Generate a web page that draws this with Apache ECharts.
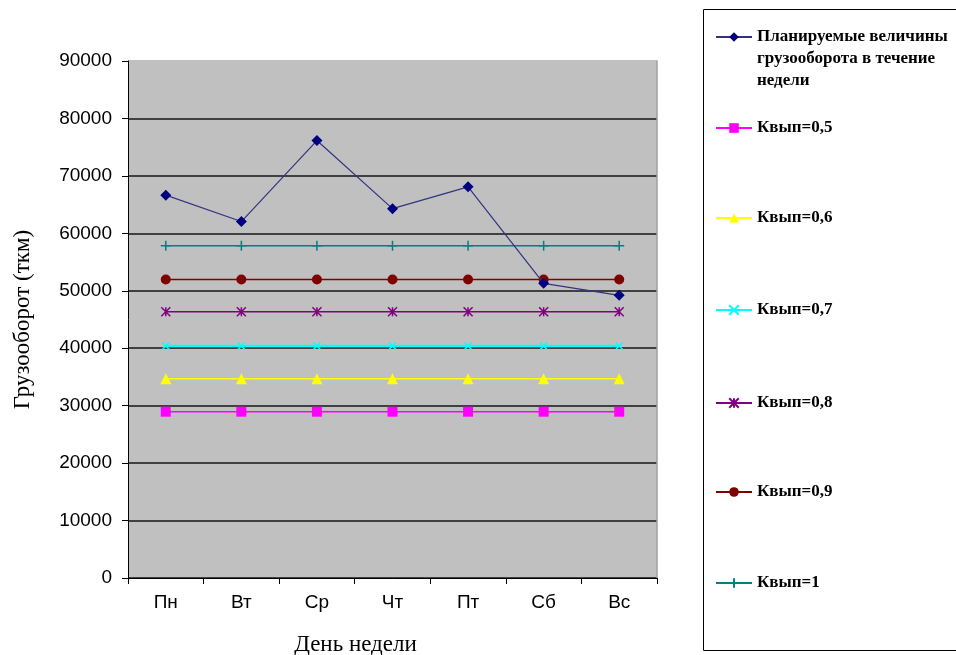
<!DOCTYPE html>
<html><head><meta charset="utf-8">
<script src="https://cdn.jsdelivr.net/npm/echarts@6/dist/echarts.min.js"></script>
<style>html,body{margin:0;padding:0;background:#fff;}#c{width:956px;height:655px;}</style>
</head><body><div id="c"></div>
<script>
const categories = ['Пн','Вт','Ср','Чт','Пт','Сб','Вс'];
const planned = [66650, 62050, 76150, 64300, 68100, 51300, 49200];
const k05 = [28950, 28950, 28950, 28950, 28950, 28950, 28950];
const k06 = [34700, 34700, 34700, 34700, 34700, 34700, 34700];
const k07 = [40400, 40400, 40400, 40400, 40400, 40400, 40400];
const k08 = [46350, 46350, 46350, 46350, 46350, 46350, 46350];
const k09 = [51950, 51950, 51950, 51950, 51950, 51950, 51950];
const k10 = [57850, 57850, 57850, 57850, 57850, 57850, 57850];
const seriesNames = ['Планируемые величины\nгрузооборота в течение\nнедели','Квып=0,5','Квып=0,6','Квып=0,7','Квып=0,8','Квып=0,9','Квып=1'];
const yTicks = {min: 0, max: 90000, interval: 10000};

const X_PATH = 'path://M0,0L10,10M10,0L0,10';
const AST_PATH = 'path://M0,0L10,10M10,0L0,10M5,0L5,10';
const PLUS_PATH = 'path://M5,0L5,10M0,5L10,5';

function mk(name, data, color, symbol, size, opts) {
  opts = opts || {};
  const stroke = symbol.indexOf('path://') === 0;
  return {
    name: name, type: 'line', data: data, symbol: symbol, symbolSize: size,
    lineStyle: {color: opts.lineColor || color, width: opts.lineWidth || 1.5},
    itemStyle: stroke ? {color: color, borderColor: color, borderWidth: 1.5} : {color: color},
    z: opts.z || 2, animation: false
  };
}

const series = [
  mk(seriesNames[1], k05, '#FF00FF', 'rect', 10),
  mk(seriesNames[2], k06, '#FFFF00', 'triangle', 11),
  mk(seriesNames[3], k07, '#00FFFF', X_PATH, 7, {lineWidth: 2.5}),
  mk(seriesNames[4], k08, '#800080', AST_PATH, 9),
  mk(seriesNames[5], k09, '#800000', 'circle', 10),
  mk(seriesNames[6], k10, '#008080', PLUS_PATH, 10),
  mk(seriesNames[0], planned, '#000080', 'diamond', 11, {lineColor: '#333380', lineWidth: 1.2, z: 3})
];

const legendCenters = [37, 128, 218, 310, 403, 492, 583];
const LH = 22;
const legends = seriesNames.map(function(name, k){
  const first = k === 0;
  return {
    data: [name], orient: 'vertical', left: 715,
    top: first ? legendCenters[k] - 2.5 * LH : legendCenters[k] - LH / 2,
    itemWidth: 36, itemHeight: 12, itemGap: 0, padding: 0,
    selectedMode: false,
    formatter: first ? function(n){ return '\n\n' + n; } : '{name}',
    textStyle: {fontFamily: 'Liberation Serif', fontWeight: 'bold', fontSize: 17, color: '#000', lineHeight: LH}
  };
});

const chart = echarts.init(document.getElementById('c'), null, {renderer: 'canvas'});
chart.setOption({
  animation: false,
  backgroundColor: '#fff',
  grid: {left: 128, right: 299, top: 61, bottom: 77, outerBoundsMode: 'none', containLabel: false, show: true, backgroundColor: '#C0C0C0', borderWidth: 0},
  legend: legends,
  graphic: [{type: 'rect', shape: {x: 703.5, y: 9.5, width: 270, height: 641}, style: {fill: 'none', stroke: '#000', lineWidth: 1}, z: -1}],
  xAxis: {
    type: 'category', data: categories, boundaryGap: true,
    axisLine: {lineStyle: {color: '#000', width: 1}},
    axisTick: {show: true, length: 6, lineStyle: {color: '#000'}},
    axisLabel: {fontFamily: 'Liberation Sans', fontSize: 19, color: '#000', margin: 15},
    name: 'День недели', nameLocation: 'middle', nameGap: 55,
    nameTextStyle: {fontFamily: 'Liberation Serif', fontSize: 23, color: '#000', padding: [0, 74, 0, 0]}
  },
  yAxis: [{
    type: 'value', min: yTicks.min, max: yTicks.max, interval: yTicks.interval,
    axisLine: {show: true, lineStyle: {color: '#000', width: 1}},
    axisTick: {show: true, length: 6, lineStyle: {color: '#000'}},
    axisLabel: {fontFamily: 'Liberation Sans', fontSize: 19, color: '#000', margin: 16, formatter: function(v){ return String(v); }},
    splitLine: {show: true, lineStyle: {color: ['#404040','#404040','#404040','#404040','#404040','#404040','#404040','#404040','#404040','#C0C0C0'], width: 2}},
    name: 'Грузооборот (ткм)', nameLocation: 'middle', nameGap: 94,
    nameTextStyle: {fontFamily: 'Liberation Serif', fontSize: 23, color: '#000'}
  }, {
    type: 'value', position: 'right', min: yTicks.min, max: yTicks.max, interval: yTicks.interval,
    axisLine: {show: true, lineStyle: {color: '#A0A0A0', width: 1.5}},
    axisTick: {show: false}, axisLabel: {show: false}, splitLine: {show: false}
  }],
  series: series
});
</script></body></html>
